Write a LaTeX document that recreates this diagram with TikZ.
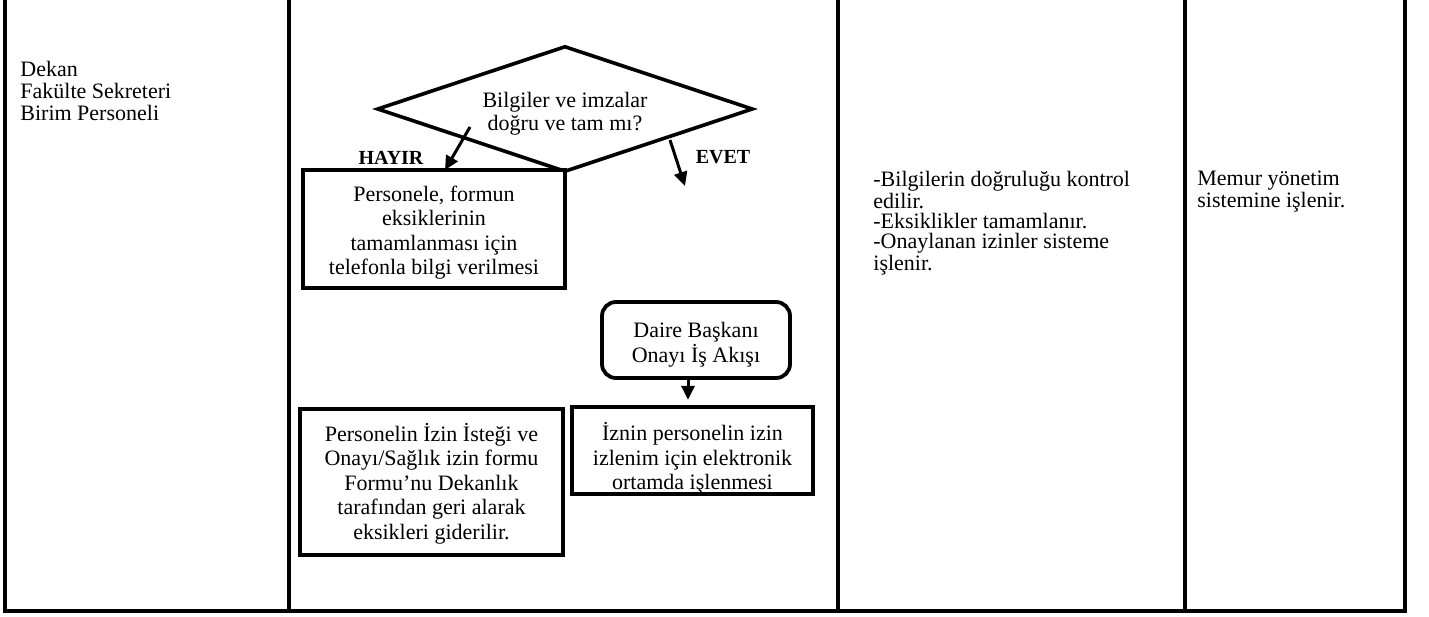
\documentclass[tikz,border=0pt]{standalone}
\usepackage{fontspec}
\setmainfont{Liberation Serif}
\usetikzlibrary{shapes.geometric,arrows.meta}
\newcommand\firstline[1]{\rule{0pt}{#1}}
\begin{document}
\begin{tikzpicture}[x=0.5pt,y=-0.5pt,
  gridline/.style={line width=2pt,line join=miter},
  box/.style={draw,line width=1.9pt,fill=white,align=center,inner sep=0pt,font=\fontsize{11}{12.2}\selectfont},
  dec/.style={draw,diamond,line width=1.8pt,fill=white,align=center,inner sep=0pt,aspect=3,font=\fontsize{11}{11.7}\selectfont},
  arr/.style={line width=1.5pt,-{Triangle[length=7pt,width=6.5pt]}},
  lbl/.style={font=\fontsize{10}{12}\selectfont\bfseries,inner sep=0pt},
  celltext/.style={align=left,anchor=west,inner sep=0pt}
]
\useasboundingbox (0,0) rectangle (1429,616);
% table
\draw[gridline] (5,0) -- (5,611) -- (1405,611) -- (1405,0);
\draw[gridline] (289,0) -- (289,611);
\draw[gridline] (837.5,0) -- (837.5,611);
\draw[gridline] (1185,0) -- (1185,611);
% cell texts
\node[celltext,font=\fontsize{11}{10.8}\selectfont] (who) at (20,91) {Dekan\\Fakülte Sekreteri\\Birim Personeli};
\node[celltext,font=\fontsize{11}{10}\selectfont] (expl) at (873,223) {-Bilgilerin doğruluğu kontrol\\edilir.\\-Eksiklikler tamamlanır.\\-Onaylanan izinler sisteme\\işlenir.};
\node[celltext,font=\fontsize{11}{10}\selectfont] (doc) at (1197,192) {Memur yönetim\\sistemine işlenir.};
% flowchart
\node[dec,minimum width=188pt,minimum height=63pt] (q) at (565,109) {\firstline{12.5pt}Bilgiler ve imzalar\\doğru ve tam mı?};
\node[box,minimum width=131pt,minimum height=59pt] (b1) at (434,229) {\firstline{11.5pt}Personele, formun\\eksiklerinin\\tamamlanması için\\telefonla bilgi verilmesi};
\node[box,rounded corners=7pt,minimum width=94pt,minimum height=38pt] (dai) at (696,340) {\firstline{12.5pt}Daire Başkanı\\Onayı İş Akışı};
\node[box,minimum width=131.5pt,minimum height=73pt] (b2) at (431.5,482) {\firstline{10.6pt}Personelin İzin İsteği ve\\Onayı/Sağlık izin formu\\Formu’nu Dekanlık\\tarafından geri alarak\\eksikleri giderilir.};
\node[box,minimum width=120.5pt,minimum height=42.5pt] (b3) at (692.5,450.5) {\firstline{17pt}İznin personelin izin\\izlenim için elektronik\\ortamda işlenmesi};
% labels
\node[lbl] (hayir) at (391,158) {HAYIR};
\node[lbl] (evet) at (723,157) {EVET};
% arrows
\coordinate (h0) at (470,127);
\coordinate (h1) at (445,170);
\draw[arr] (h0) -- (h1);
\coordinate (e0) at (670,140);
\coordinate (e1) at (685,186);
\draw[arr] (e0) -- (e1);
\coordinate (d0) at (688,378);
\draw[arr,shorten >=2.5pt] (d0) -- (d0 |- b3.north);
\end{tikzpicture}
\end{document}
